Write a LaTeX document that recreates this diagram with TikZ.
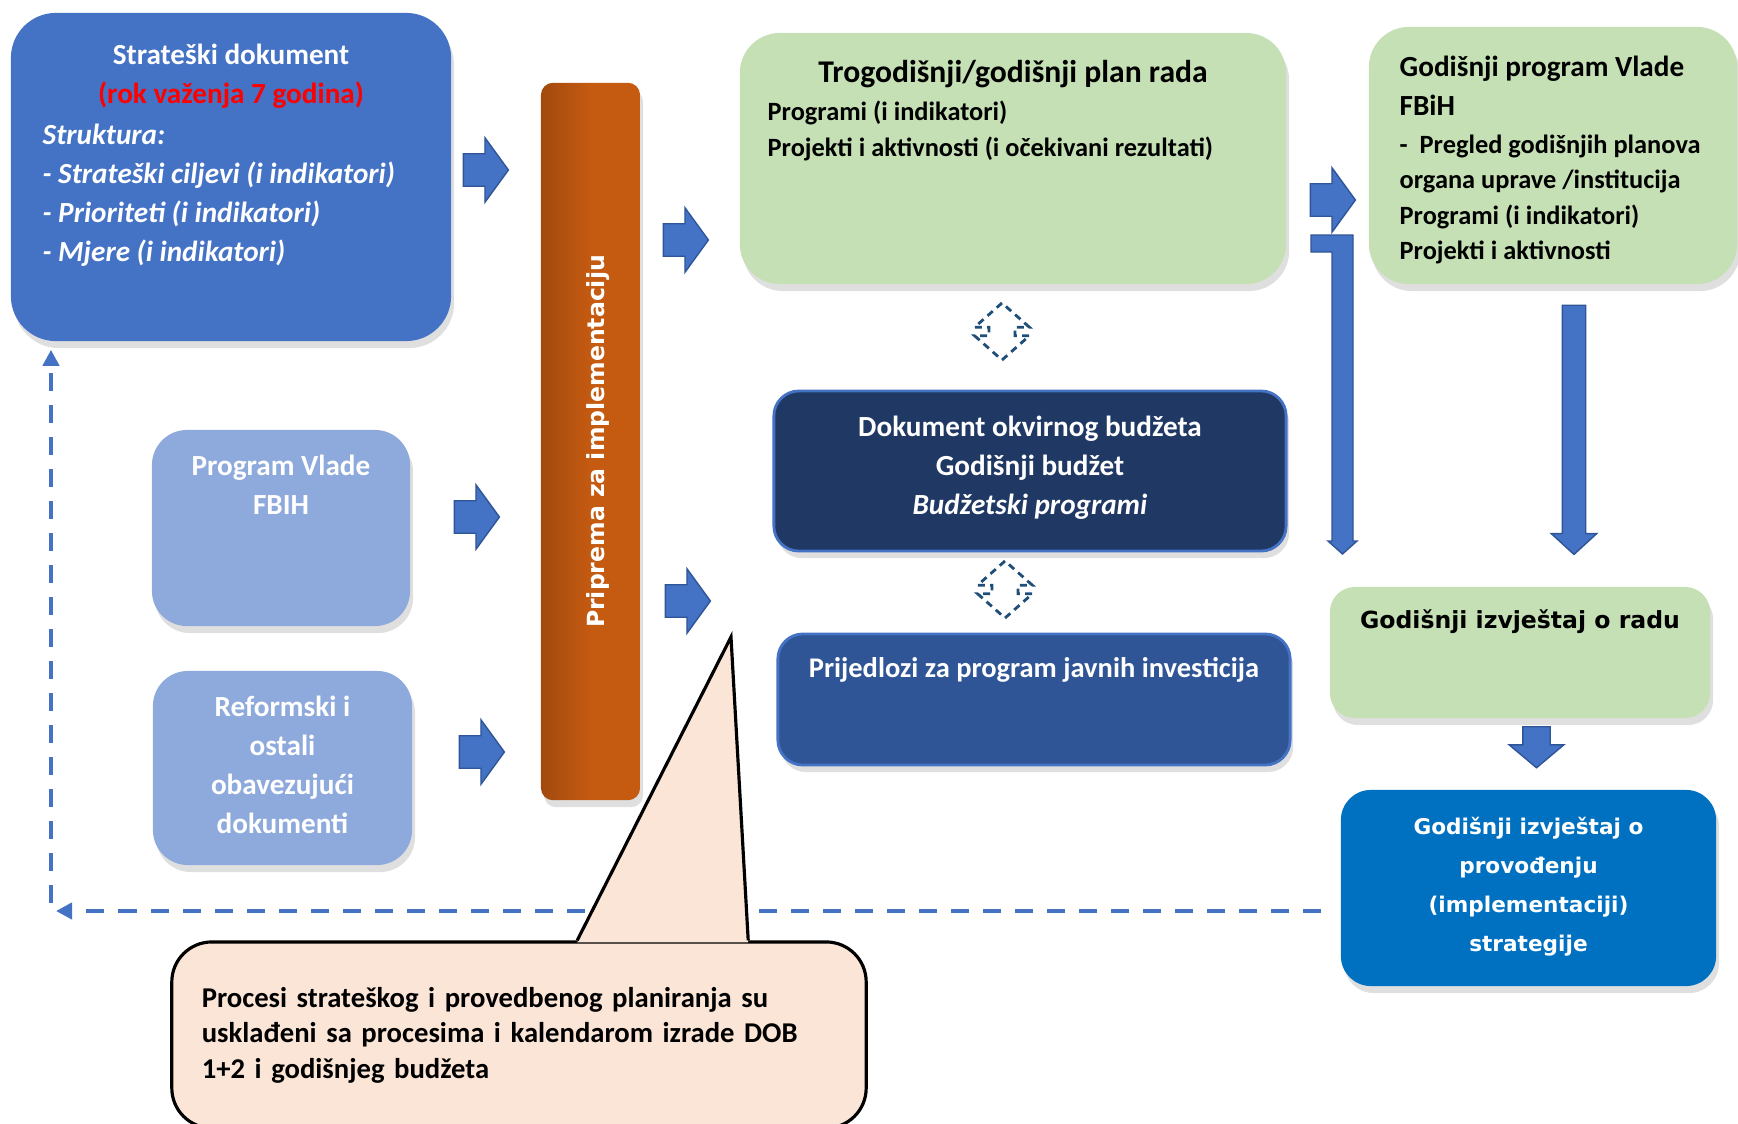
\documentclass[tikz,border=0pt]{standalone}
\usepackage{fontspec}
\setmainfont{Carlito}
\newfontfamily\widefont{DejaVu Sans}
\usepackage{xcolor}
\usetikzlibrary{
    shapes.arrows,
    arrows.meta,
    positioning,
    shadows,
    calc
}
\definecolor{stratblue}{HTML}{4472C4}
\definecolor{barorange}{HTML}{C55A11}
\definecolor{planmint}{HTML}{C5E0B4}
\definecolor{paleblue}{HTML}{8EA9DB}
\definecolor{budgetnavy}{HTML}{203864}
\definecolor{pjiblue}{HTML}{2F5597}
\definecolor{reportblue}{HTML}{0070C0}
\definecolor{notepeach}{HTML}{FBE5D6}
\definecolor{arrowedge}{HTML}{2F5597}
\definecolor{dashnavy}{HTML}{1F4E79}

\begin{document}
\begin{tikzpicture}[
        x=0.01cm, y=-0.01cm,
        box/.style={rounded corners=#1, inner sep=0pt, drop shadow={shadow xshift=0.3mm, shadow yshift=-0.7mm, opacity=0.25}},
        box/.default=4mm,
        txt/.style={inner sep=0pt, align=center, font=\fontsize{8.3}{11.1}\selectfont\bfseries},
        listtxt/.style={inner sep=0pt, align=left, anchor=north west, font=\fontsize{8.3}{11.1}\selectfont\bfseries},
        widetxt/.style={inner sep=0pt, align=center, font=\widefont\fontsize{6.7}{11.1}\selectfont\bfseries},
        rarrow/.style={single arrow, draw=arrowedge, fill=stratblue, inner sep=0pt, inner ysep=1.55mm, minimum height=0.45cm, minimum width=0.63cm, single arrow head extend=0.16cm, single arrow tip angle=108},
        darrow/.style={single arrow, rotate=-90, draw=arrowedge, fill=stratblue, inner sep=0pt},
        syncarrow/.style={double arrow, rotate=90, draw=dashnavy, dash pattern=on 2pt off 1.5pt, line width=0.8pt, inner sep=0pt, inner ysep=1.15mm, minimum height=0.57cm, minimum width=0.52cm, double arrow head extend=0.145cm, double arrow tip angle=97},
        dashline/.style={draw=stratblue, line width=1.4pt, dash pattern=on 1.8mm off 1.4mm, -{Triangle[length=1.6mm, width=1.6mm]}}
    ]
        \useasboundingbox (0,0) rectangle (1738,1124);

        % Feedback loop (behind the note)
        \coordinate (loopcorner) at (51,911);

        % Strategic document
        \node[box=4.5mm, fill=stratblue, minimum width=4.40cm, minimum height=3.28cm] (strat) at (231,177) {};
        \node[txt, text=white, below=3.1mm of strat.north] (strattitle) {Strateški dokument\\\textcolor{red}{(rok važenja 7 godina)}};
        \node[listtxt, text=white, font=\fontsize{8.3}{11.1}\selectfont\bfseries\itshape] (stratlist) at (42,123) {Struktura:\\- Strateški ciljevi (i indikatori)\\- Prioriteti (i indikatori)\\- Mjere (i indikatori)};

        % Preparation bar
        \node[box=1.2mm, left color=barorange!82!black, right color=barorange, middle color=barorange, minimum width=0.99cm, minimum height=7.17cm] (priprema) at (590.5,441.5) {};
        \node[widetxt, text=white, rotate=90] (pripremalbl) at ([xshift=0.8mm]priprema.center) {Priprema za implementaciju};

        % Work plan
        \node[box=4mm, fill=planmint, minimum width=5.46cm, minimum height=2.51cm] (plan) at (1013,158.5) {};
        \node[txt, font=\fontsize{9}{11}\selectfont\bfseries, below=2.75mm of plan.north] (plantitle) {Trogodišnji/godišnji plan rada};
        \node[listtxt, font=\fontsize{7.5}{10.2}\selectfont\bfseries] (planlist) at (767,100) {Programi (i indikatori)\\Projekti i aktivnosti (i očekivani rezultati)};

        % Government annual programme
        \node[box=4mm, fill=planmint, minimum width=3.68cm, minimum height=2.57cm] (godprog) at (1553,155.5) {};
        \node[listtxt] (godprogtitle) at (1399,55) {Godišnji program Vlade\\FBiH};
        \node[listtxt, font=\fontsize{7.5}{10.1}\selectfont\bfseries] (godproglist) at (1399,134) {-\ \ Pregled godišnjih planova\\organa uprave /institucija\\Programi (i indikatori)\\Projekti i aktivnosti};

        % Inputs
        \node[box=3.5mm, fill=paleblue, minimum width=2.58cm, minimum height=1.96cm] (vlada) at (281,528) {};
        \node[txt, text=white, below=2.55mm of vlada.north] (vladalbl) {Program Vlade\\FBIH};
        \node[box=3.5mm, fill=paleblue, minimum width=2.59cm, minimum height=1.94cm] (reform) at (282.5,768) {};
        \node[txt, text=white, below=2.5mm of reform.north] (reformlbl) {Reformski i\\ostali\\obavezujući\\dokumenti};

        % Budget documents
        \node[box=2.5mm, fill=budgetnavy, draw=stratblue, line width=0.8pt, minimum width=5.12cm, minimum height=1.60cm] (dob) at (1030,471) {};
        \node[txt, text=white, below=2.6mm of dob.north] (doblbl) {Dokument okvirnog budžeta\\Godišnji budžet\\\textit{Budžetski programi}};
        \node[box=2.5mm, fill=pjiblue, draw=stratblue, line width=0.8pt, minimum width=5.12cm, minimum height=1.31cm] (pji) at (1034,699.5) {};
        \node[txt, text=white, font=\fontsize{8.1}{11.1}\selectfont\bfseries, below=2.4mm of pji.north] (pjilbl) {Prijedlozi za program javnih investicija};

        % Reports
        \node[box=2.5mm, fill=planmint, minimum width=3.80cm, minimum height=1.31cm] (izvrad) at (1520,652.5) {};
        \node[widetxt, below=2.3mm of izvrad.north] (izvradlbl) {Godišnji izvještaj o radu};
        \node[box=3mm, fill=reportblue, minimum width=3.75cm, minimum height=1.96cm] (izvprov) at (1528.5,888) {};
        \node[widetxt, text=white, font=\widefont\fontsize{6.15}{11.1}\selectfont\bfseries, below=2.7mm of izvprov.north] (izvprovlbl) {Godišnji izvještaj o\\provođenju\\(implementaciji)\\strategije};

        % Block arrows
        \node[rarrow] (a1) at (480,170) {};
        \node[rarrow] (a2) at (680,240) {};
        \node[rarrow] (a3) at (471,517) {};
        \node[rarrow] (a4) at (682,601) {};
        \node[rarrow] (a5) at (476,752) {};
        \node[rarrow] (a6) at (1327,200) {};
        \node[darrow, inner ysep=1.1mm, minimum height=2.49cm, minimum width=0.44cm, single arrow head extend=0.11cm, single arrow tip angle=95] (b2) at (1574,424.5) {};
        \node[darrow, inner ysep=1.3mm, minimum height=0.41cm, minimum width=0.53cm, single arrow head extend=0.135cm, single arrow tip angle=100] (b3) at (1536.5,741.5) {};
        \filldraw[fill=stratblue, draw=arrowedge] (1311,235) -- (1353,235) -- (1353,541) -- (1357,541) -- (1342.5,554) -- (1328,541) -- (1332,541) -- (1332,252) -- (1311,252) -- cycle;

        % Plan <-> budget links
        \node[syncarrow] (sync1) at (1002,331.5) {};
        \node[syncarrow] (sync2) at (1005,589.5) {};

        % Feedback to strategy
        \draw[dashline] ($(izvprov.west)+(-19,23)$) -- ($(loopcorner)+(5,0)$);
        \draw[dashline] ($(loopcorner)+(0,-8)$) -- ($(loopcorner |- strat.south)+(0,8)$);

        % Note
        \node[draw=black, line width=0.9pt, fill=notepeach, rounded corners=4mm, minimum width=6.94cm, minimum height=1.86cm, inner sep=0pt, text width=6.34cm, align=left, font=\fontsize{8.15}{10.1}\selectfont\bfseries] (note) at (519,1035) {Procesi strateškog i provedbenog planiranja su\\usklađeni sa procesima i kalendarom izrade DOB\\1+2 i godišnjeg budžeta};
        \coordinate (tip) at (731,637);
        \fill[notepeach] ($(note.north west)+(407,2)$) -- (tip) -- ($(note.north west)+(578,2)$) -- cycle;
        \draw[line width=0.9pt] ($(note.north west)+(407,0)$) -- (tip) -- ($(note.north west)+(578,0)$);

\end{tikzpicture}
\end{document}
